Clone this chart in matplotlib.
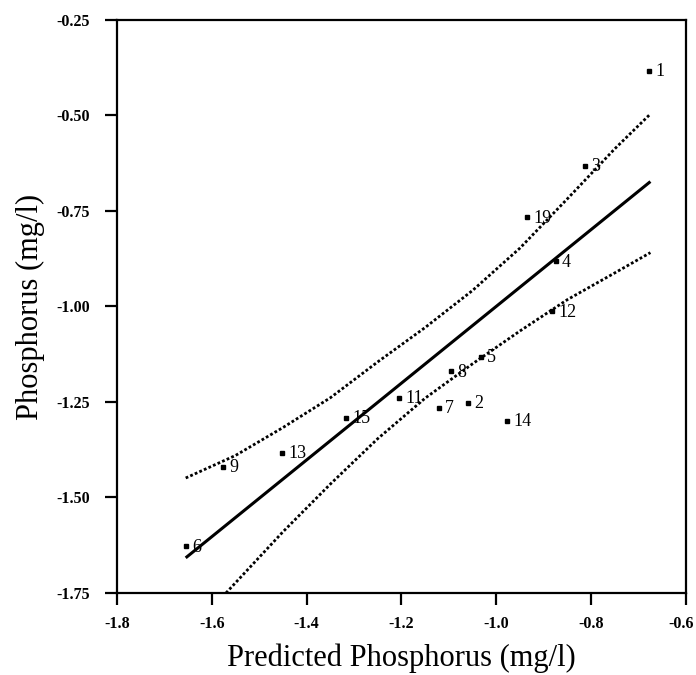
import matplotlib
matplotlib.use("Agg")
import matplotlib.pyplot as plt
from matplotlib.transforms import offset_copy

# site numbers and values
site_labels = ['1', '2', '3', '4', '5', '6', '7', '8', '9', '11', '12', '13', '14', '15', '19']
predicted = [-0.677, -1.059, -0.813, -0.875, -1.033, -1.654, -1.121, -1.096,
             -1.577, -1.205, -0.882, -1.451, -0.977, -1.316, -0.935]
observed = [-0.383, -1.253, -0.632, -0.882, -1.131, -1.628, -1.266, -1.170,
            -1.419, -1.240, -1.013, -1.384, -1.299, -1.292, -0.767]

# fitted line end points
fit_x = [-1.655, -0.675]
fit_y = [-1.658, -0.673]

# confidence band, read at several points
upper_x = [-1.655, -1.55, -1.45, -1.35, -1.25, -1.15, -1.05, -0.95, -0.85, -0.75, -0.675]
upper_y = [-1.449, -1.390, -1.317, -1.239, -1.145, -1.055, -0.958, -0.847, -0.718, -0.587, -0.496]
lower_x = [-1.57, -1.45, -1.35, -1.25, -1.15, -1.05, -0.95, -0.85, -0.75, -0.675]
lower_y = [-1.750, -1.590, -1.465, -1.346, -1.240, -1.150, -1.064, -0.982, -0.912, -0.859]

serif = ['Liberation Serif', 'DejaVu Serif']

fig = plt.figure(figsize=(6.96, 6.75), dpi=100)
ax = fig.add_axes([0.168, 0.1215, 0.8176, 0.8489])

ax.plot(fit_x, fit_y, color='black', lw=2.2, solid_capstyle='butt')
ax.plot(upper_x, upper_y, color='black', lw=2.0, linestyle=(0, (1, 0.8)))
ax.plot(lower_x, lower_y, color='black', lw=2.0, linestyle=(0, (1, 0.8)))

ax.plot(predicted, observed, 's', color='black', markersize=3.2, linestyle='none')
for lab, px, py in zip(site_labels, predicted, observed):
    ax.annotate(lab, (px, py), xytext=(4.5, -0.5), textcoords='offset points',
                ha='left', va='center', fontsize=13, family=serif)

ax.set_xlim(-1.8, -0.6)
ax.set_ylim(-1.75, -0.25)
ax.set_xticks([-1.8, -1.6, -1.4, -1.2, -1.0, -0.8, -0.6])
ax.set_xticklabels(['-1.8', '-1.6', '-1.4', '-1.2', '-1.0', '-0.8', '-0.6'])
ax.set_yticks([-1.75, -1.5, -1.25, -1.0, -0.75, -0.5, -0.25])
ax.set_yticklabels(['-1.75', '-1.50', '-1.25', '-1.00', '-0.75', '-0.50', '-0.25'])

for sp in ax.spines.values():
    sp.set_linewidth(1.6)
ax.tick_params(direction='out', length=8.5, width=1.6)
ax.tick_params(axis='x', pad=8)
ax.tick_params(axis='y', pad=11)
for t in ax.get_xticklabels() + ax.get_yticklabels():
    t.set_family(serif)
    t.set_fontweight('bold')
    t.set_fontsize(11.5)

# last x label sits at the right edge of the page; nudge it in a little
last = ax.get_xticklabels()[-1]
last.set_transform(offset_copy(last.get_transform(), fig=fig, x=-5, y=0, units='dots'))

ax.set_xlabel('Predicted Phosphorus (mg/l)', family=serif, fontsize=22, labelpad=8)
ax.set_ylabel('Phosphorus (mg/l)', family=serif, fontsize=22, labelpad=8)

fig.savefig('out.png', dpi=100)
